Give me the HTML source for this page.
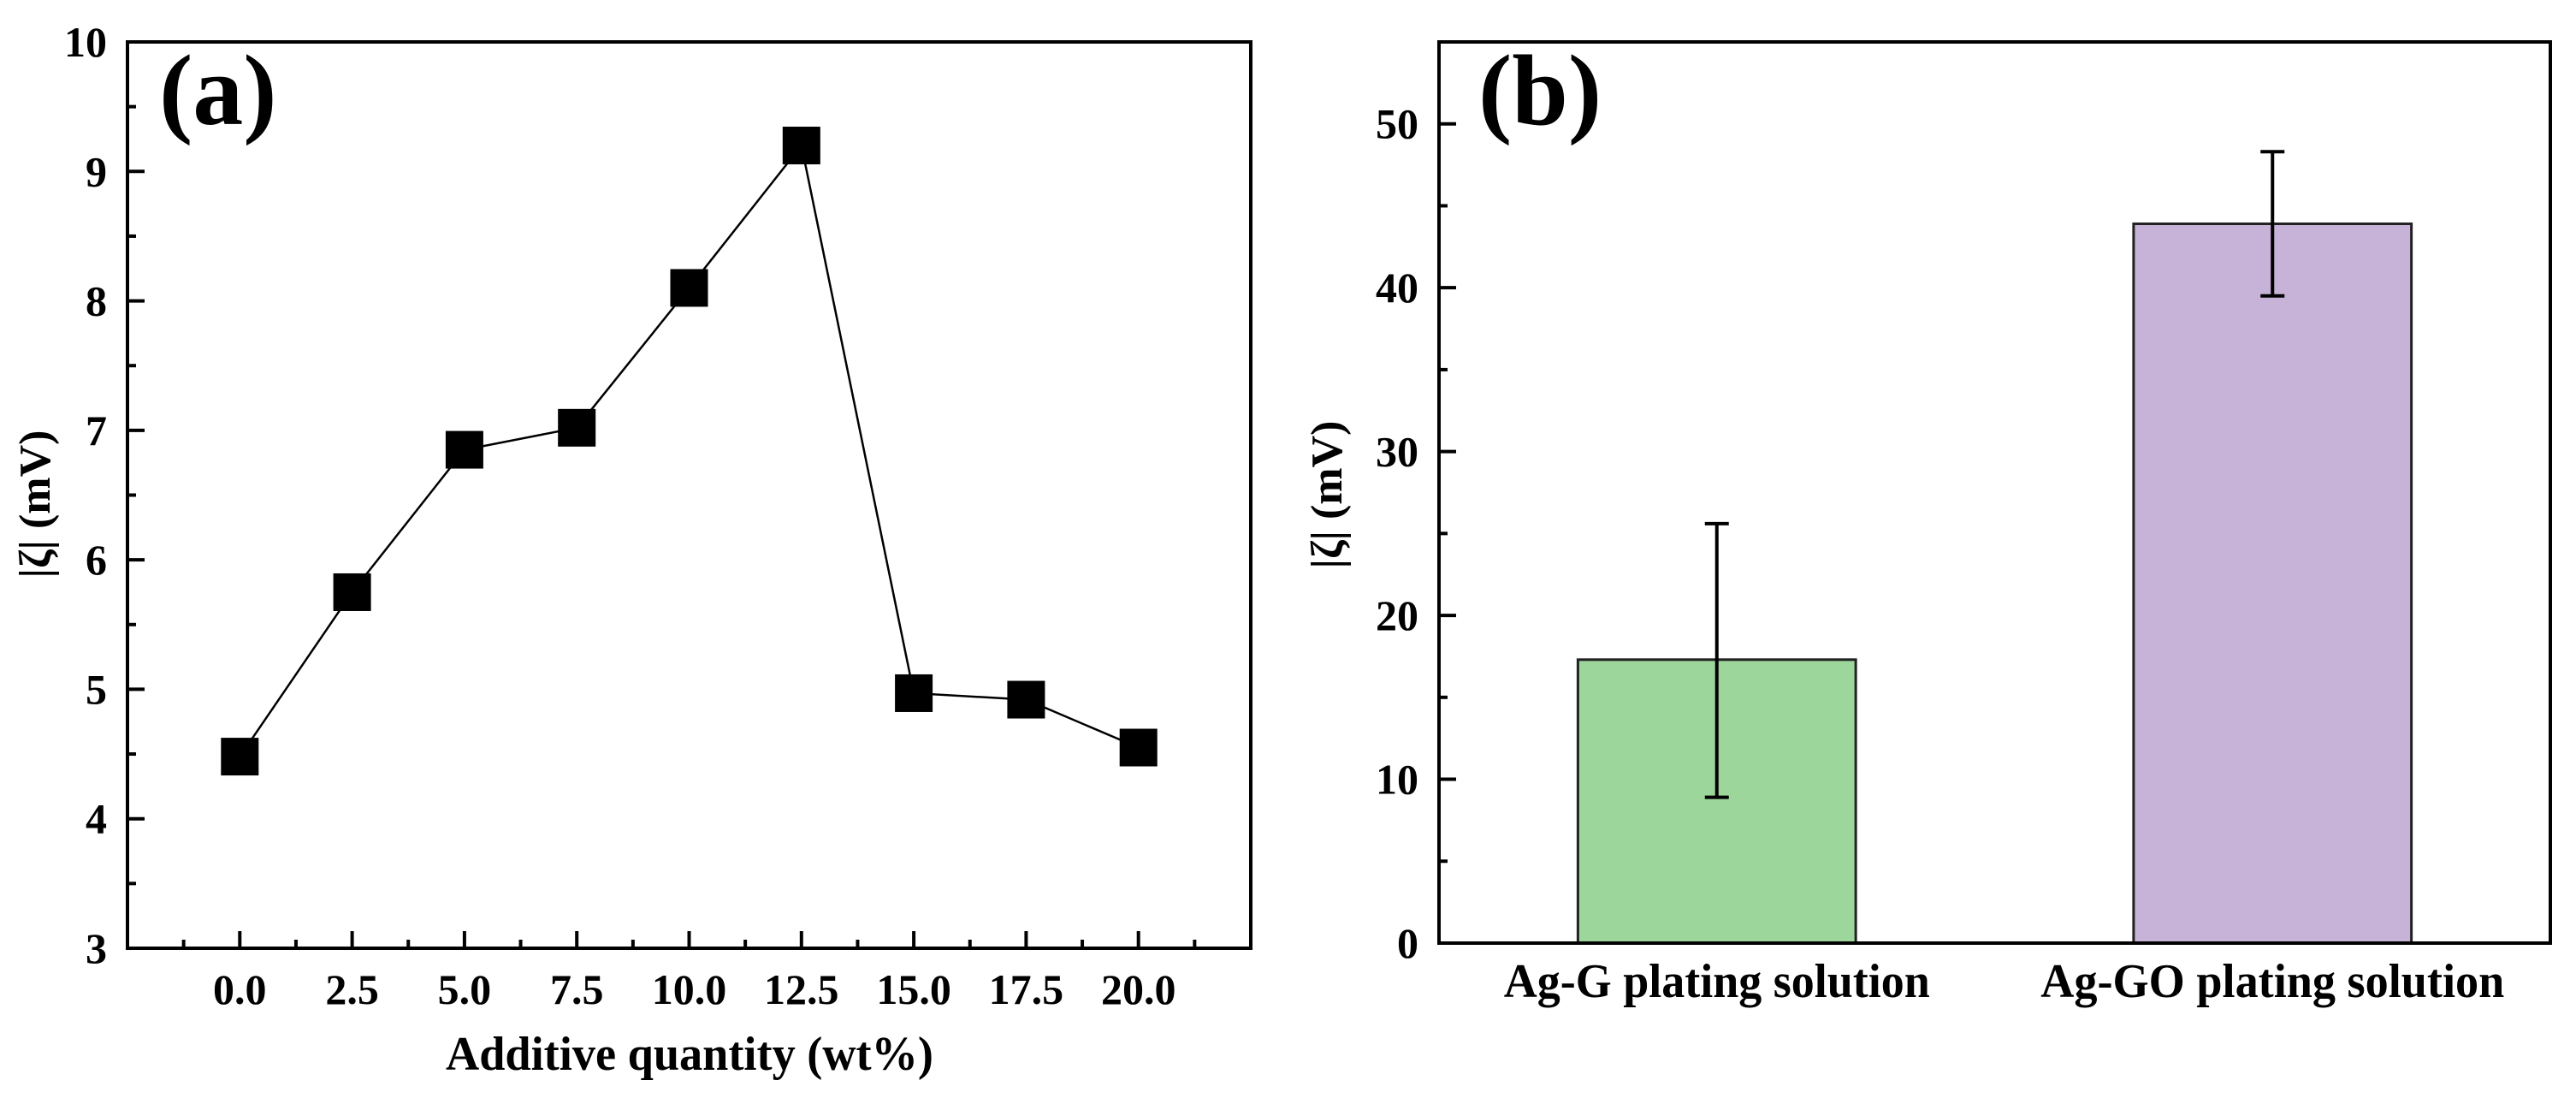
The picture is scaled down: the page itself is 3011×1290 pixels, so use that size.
<!DOCTYPE html>
<html><head><meta charset="utf-8"><style>
html,body{margin:0;padding:0;background:#fff;}
svg{display:block;font-family:"Liberation Serif",serif;font-weight:bold;}
</style></head><body>
<svg id="fig" width="3011" height="1290" viewBox="0 0 3011 1290">
<g id="pa"></g>
<g id="pb"></g>
</svg>
<script>
// Panel (a) data
const aX = [0, 2.5, 5, 7.5, 10, 12.5, 15, 17.5, 20];
const aY = [4.48, 5.75, 6.85, 7.02, 8.1, 9.2, 4.97, 4.92, 4.55];
const aXTicks = [0, 2.5, 5, 7.5, 10, 12.5, 15, 17.5, 20];
const aXTickLabels = ["0.0","2.5","5.0","7.5","10.0","12.5","15.0","17.5","20.0"];
const aYTicks = [3,4,5,6,7,8,9,10];
// Panel (b) data
const bCats = ["Ag-G plating solution", "Ag-GO plating solution"];
const bVals = [17.3, 43.9];
const bErrLo = [8.9, 39.5];
const bErrHi = [25.6, 48.3];
const bColors = ["#9dd69b", "#c6b3d7"];
const bYTicks = [0,10,20,30,40,50];

const NS = "http://www.w3.org/2000/svg";
function mk(parent, tag, attrs, text){
  const e = document.createElementNS(NS, tag);
  for (const k in attrs) e.setAttribute(k, attrs[k]);
  if (text !== undefined) e.textContent = text;
  parent.appendChild(e);
  return e;
}

// ---------- Panel A ----------
const pa = document.getElementById('pa');
const A = {l:149, r:1462, t:49, b:1108, x0:-2.5, x1:22.5, y0:3, y1:10};
const ax = v => A.l + (v - A.x0) / (A.x1 - A.x0) * (A.r - A.l);
const ay = v => A.b - (v - A.y0) / (A.y1 - A.y0) * (A.b - A.t);

let e;
for (let i = 0; i < aXTicks.length; i++) {
  const x = ax(aXTicks[i]);
  e = mk(pa, 'line', {x1:x, x2:x, y1:A.b, y2:A.b-20, stroke:'#000','stroke-width':4});
  
  
  e = mk(pa, 'text', {x:x, y:1173, 'font-size':50, 'text-anchor':'middle'}, aXTickLabels[i]);
  
  
}
for (let v = A.x0 + 1.25; v < A.x1; v += 2.5) {
  const x = ax(v);
  e = mk(pa, 'line', {x1:x, x2:x, y1:A.b, y2:A.b-10, stroke:'#000','stroke-width':4});
  
  
}
for (let i = 0; i < aYTicks.length; i++) {
  const y = ay(aYTicks[i]);
  e = mk(pa, 'line', {x1:A.l, x2:A.l+20, y1:y, y2:y, stroke:'#000','stroke-width':4});
  
  
  e = mk(pa, 'text', {x:125, y:y+17, 'font-size':50, 'text-anchor':'end'}, String(aYTicks[i]));
  
  
  if (i < aYTicks.length - 1) {
    const ym = ay(aYTicks[i] + 0.5);
    e = mk(pa, 'line', {x1:A.l, x2:A.l+10, y1:ym, y2:ym, stroke:'#000','stroke-width':4});
    
    
  }
}
let pts = aX.map((v,i) => ax(v) + ',' + ay(aY[i])).join(' ');
e = mk(pa, 'polyline', {points:pts, fill:'none', stroke:'#000', 'stroke-width':2.5});


const ms = 44;
for (let i = 0; i < aX.length; i++) {
  e = mk(pa, 'rect', {x:ax(aX[i])-ms/2, y:ay(aY[i])-ms/2, width:ms, height:ms, fill:'#000'});
  
  
}
e = mk(pa, 'rect', {x:A.l, y:A.t, width:A.r-A.l, height:A.b-A.t, fill:'none', stroke:'#000', 'stroke-width':4});


e = mk(pa, 'text', {x:186, y:145, 'font-size':118}, '(a)');


e = mk(pa, 'text', {x:806, y:1250, 'font-size':56, 'text-anchor':'middle', textLength:570, lengthAdjust:'spacingAndGlyphs'}, 'Additive quantity (wt%)');


e = mk(pa, 'text', {x:0, y:0, 'font-size':52, 'text-anchor':'middle', transform:'translate(58,589) rotate(-90)'}, '|ζ| (mV)');



// ---------- Panel B ----------
const pb = document.getElementById('pb');
const B = {l:1682, r:2981, t:49, b:1102, y0:0, y1:55};
const by = v => B.b - (v - B.y0) / (B.y1 - B.y0) * (B.b - B.t);
const bw = (B.r - B.l) / bCats.length;
const bx = i => B.l + bw * (i + 0.5);

for (let i = 0; i < bYTicks.length; i++) {
  const y = by(bYTicks[i]);
  e = mk(pb, 'line', {x1:B.l, x2:B.l+20, y1:y, y2:y, stroke:'#000','stroke-width':4});
  
  
  e = mk(pb, 'text', {x:1658, y:y+17, 'font-size':50, 'text-anchor':'end'}, String(bYTicks[i]));
  
  
  const ym = by(bYTicks[i] + 5);
  e = mk(pb, 'line', {x1:B.l, x2:B.l+10, y1:ym, y2:ym, stroke:'#000','stroke-width':4});
  
  
}
const labW = [498, 542];
for (let i = 0; i < bCats.length; i++) {
  const cx = bx(i), w = bw / 2;
  e = mk(pb, 'rect', {x:cx-w/2, y:by(bVals[i]), width:w, height:B.b-by(bVals[i]), fill:bColors[i], stroke:'#222', 'stroke-width':3});
  
  
  const g = mk(pb, 'g', {stroke:'#000', 'stroke-width':4});
  
  
  mk(g, 'line', {x1:cx, x2:cx, y1:by(bErrLo[i]), y2:by(bErrHi[i])});
  mk(g, 'line', {x1:cx-14, x2:cx+14, y1:by(bErrLo[i]), y2:by(bErrLo[i])});
  mk(g, 'line', {x1:cx-14, x2:cx+14, y1:by(bErrHi[i]), y2:by(bErrHi[i])});
  e = mk(pb, 'text', {x:cx, y:1165, 'font-size':56, 'text-anchor':'middle', textLength:labW[i], lengthAdjust:'spacingAndGlyphs'}, bCats[i]);
  
  
}
e = mk(pb, 'rect', {x:B.l, y:B.t, width:B.r-B.l, height:B.b-B.t, fill:'none', stroke:'#000', 'stroke-width':4});


e = mk(pb, 'text', {x:1728, y:145, 'font-size':118}, '(b)');


e = mk(pb, 'text', {x:0, y:0, 'font-size':52, 'text-anchor':'middle', transform:'translate(1568,578) rotate(-90)'}, '|ζ| (mV)');


</script>
</body></html>
